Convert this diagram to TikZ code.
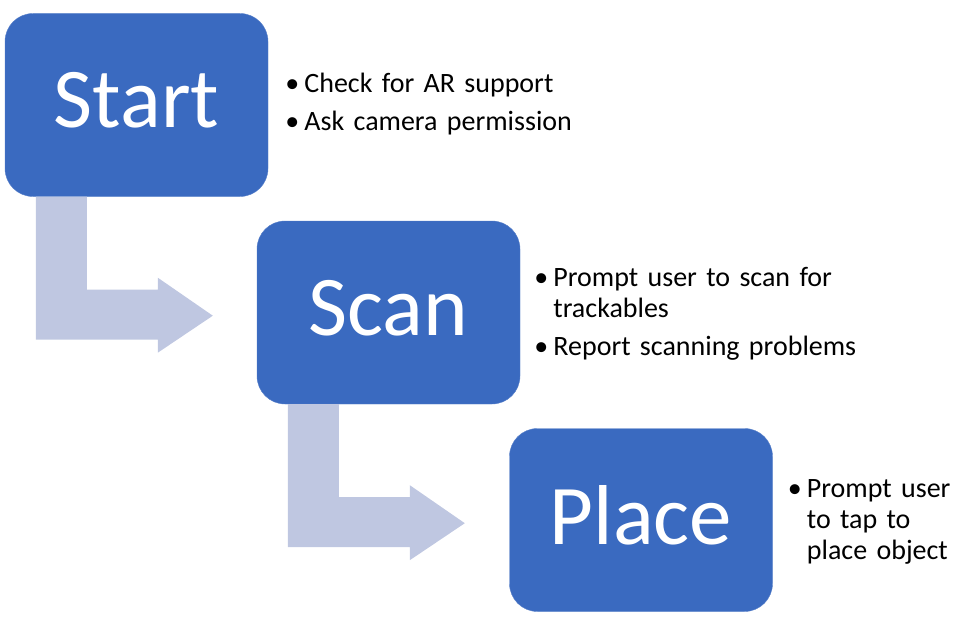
\documentclass[tikz,border=0pt]{standalone}
\usepackage{fontspec}
\setmainfont{Carlito}
\usetikzlibrary{positioning,calc}
\definecolor{stageblue}{HTML}{3A6AC0}
\definecolor{flowlilac}{HTML}{BFC7E1}
\newcommand{\aritem}[1]{\par\noindent\hangindent=19pt\hangafter=1\makebox[19pt][l]{\textbullet}#1\par}

\begin{document}
\begin{tikzpicture}[
    x=1pt, y=-1pt,
    stage/.style={
      fill=stageblue, draw=stageblue!85!white, text=white,
      minimum width=263pt, minimum height=183pt, inner sep=0pt,
      rounded corners=28pt, text depth=10pt,
      font=\fontsize{85}{90}\selectfont
    },
    notes/.style={
      inner sep=0pt, align=left, anchor=west, yshift=5pt,
      font=\fontsize{28}{31}\selectfont
    },
    elbow/.pic={
      \fill[flowlilac] (0,0) -- (51,0) -- (51,93) -- (122,93) -- (122,81)
        -- (177,119) -- (122,156) -- (122,143) -- (0,143) -- cycle;
    }
  ]
  \useasboundingbox (0,0) rectangle (956,623);

  % ---------- the three stages ---------------------------------------------
  \node[stage] (start) at (136.5,105) {Start};
  \node[stage] (scan)  at (388.5,312.5) {Scan};
  \node[stage] (place) at (641,520) {Place};

  % ---------- elbow arrows between stages ----------------------------------
  \pic at ($(start.south west)+(31,0)$) {elbow};
  \pic at ($(scan.south west)+(31,0)$) {elbow};

  % ---------- bullet notes -------------------------------------------------
  \node[notes, text width=330pt, right=17pt of start, yshift=2pt] (startnotes)
    {\aritem{Check for AR support}\vspace{7pt}\aritem{Ask camera permission}};
  \node[notes, text width=330pt, right=14pt of scan] (scannotes)
    {\aritem{Prompt user to scan for\break trackables}\vspace{7pt}\aritem{Report scanning problems}};
  \node[notes, text width=170pt, right=15pt of place] (placenotes)
    {\aritem{Prompt user\break to tap to\break place object}};

\end{tikzpicture}
\end{document}
